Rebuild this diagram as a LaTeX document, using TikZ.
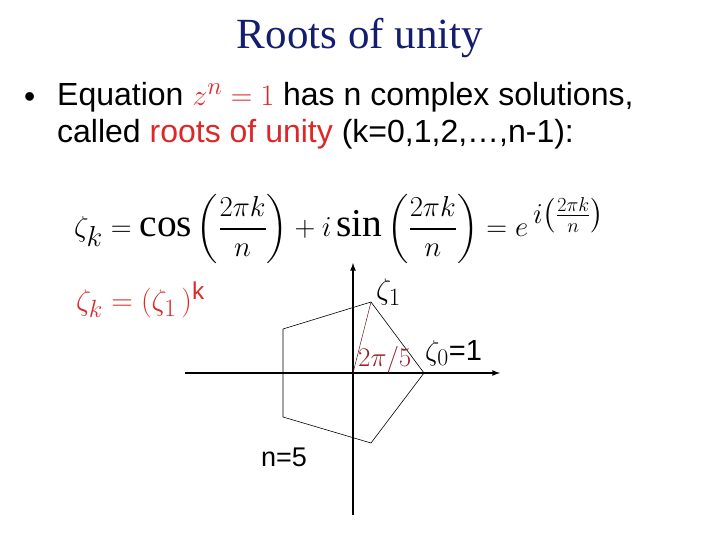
\documentclass[tikz,border=0pt]{standalone}
\usepackage{fontspec}
\setmainfont{Liberation Serif}
\newfontfamily\arialf{Liberation Sans}
\usepackage{amsmath}
\usepackage{graphicx}
\definecolor{rred}{RGB}{220,40,40}
\definecolor{dred}{RGB}{150,30,40}
\definecolor{ttl}{RGB}{20,30,110}
\begin{document}
\begin{tikzpicture}[x=1pt,y=-1pt,
  bodytxt/.style={anchor=west,font=\arialf\fontsize{32}{36}\selectfont,inner sep=0},
  poly/.style={draw,line width=0.6pt},
  axis/.style={draw,line width=1.6pt,-latex}]
\useasboundingbox (0,0) rectangle (720,540);
\node[font=\fontsize{43}{46}\selectfont,text=ttl] (title) at (360,38) {Roots of unity};
\node[bodytxt] (bul) at (24,100) {\textbullet};
\node[bodytxt] (l1) at (57,97) {Equation \textcolor{rred}{\scalebox{1.2}{$z^n=1$}} has n complex solutions,};
\node[bodytxt] (l2) at (57,134) {called \textcolor{rred}{roots of unity} (k=0,1,2,\dots,n-1):};
\node[anchor=west,inner sep=0,font=\fontsize{34}{38}\selectfont] (eq) at (74,229)
  {\scalebox{1.16}{$\zeta_k=\cos\left(\dfrac{2\pi k}{n}\right)+i\sin\left(\dfrac{2\pi k}{n}\right)=e^{\,i\left(\frac{2\pi k}{n}\right)}$}};
\node[anchor=west,inner sep=0,text=rred,font=\fontsize{29}{32}\selectfont] (eq2) at (76,300) {\scalebox{1.2}{$\zeta_k=(\zeta_1\,)$\textsuperscript{\arialf k}}};
\coordinate (o) at (353,373);
\coordinate (xl) at (185,373); \coordinate (xr) at (500,373);
\coordinate (yb) at (353,515); \coordinate (yt) at (353,263);
\draw[axis] (xl) -- (xr);
\draw[axis] (yb) -- (yt);
\coordinate (p0) at (424,373); \coordinate (p1) at (371,302);
\coordinate (p2) at (283,329); \coordinate (p3) at (283,417); \coordinate (p4) at (371,443);
\draw[poly] (p0)--(p1)--(p2)--(p3)--(p4)--cycle;
\draw[line width=0.5pt,dred!70!black] (o)--(p1);
\node[text=dred,font=\fontsize{22}{24}\selectfont,anchor=south west,inner sep=1pt] (ang) at (357,374) {\scalebox{1.3}{$2\pi/5$}};
\node[font=\fontsize{30}{32}\selectfont,anchor=west,inner sep=0] (z1) at (376,292) {\scalebox{1.2}{$\zeta_1$}};
\node[font=\fontsize{29}{32}\selectfont,anchor=west,inner sep=0] (z0) at (425,353) {\scalebox{1.15}{$\zeta_0$}\arialf =1};
\node[font=\arialf\fontsize{27}{30}\selectfont] (n5) at (284,457) {n=5};
\end{tikzpicture}
\end{document}
